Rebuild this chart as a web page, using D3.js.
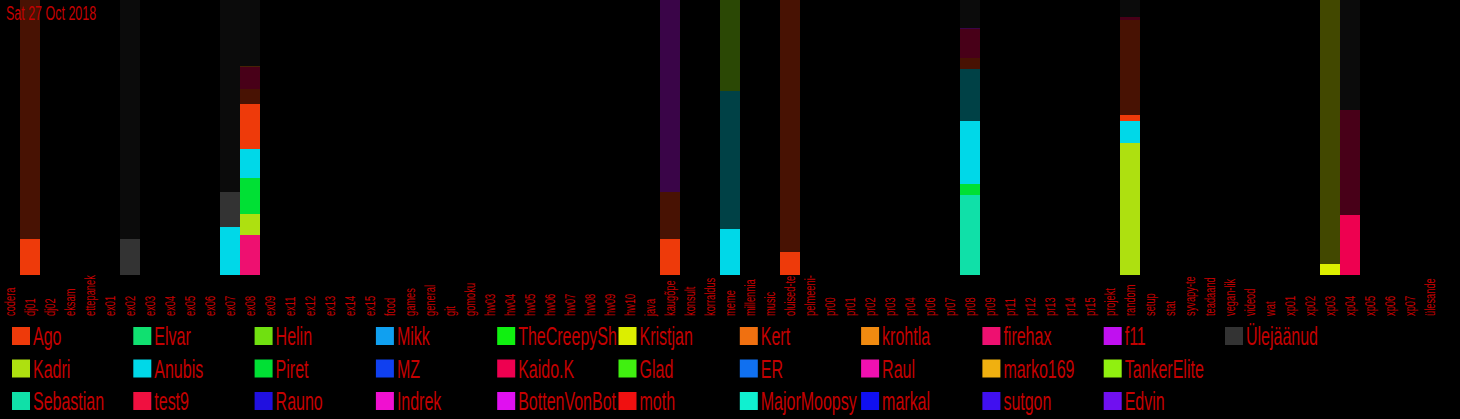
<!DOCTYPE html>
<html><head><meta charset="utf-8">
<script src="https://cdn.jsdelivr.net/npm/d3@7"></script>
<style>html,body{margin:0;padding:0;background:#000;overflow:hidden}</style>
</head><body><svg id="c" width="1460" height="419"></svg>
<script>
const titleText = "Sat 27 Oct 2018";
const categories = ["codera","dj01","dj02","eksam","ettepanek","ex01","ex02","ex03","ex04","ex05","ex06","ex07","ex08","ex09","ex11","ex12","ex13","ex14","ex15","food","games","general","git","gomoku","hw03","hw04","hw05","hw06","hw07","hw08","hw09","hw10","java","kaugõpe","konsult","korraldus","meme","millenniaalid","music","oluised-teated","pelmeeni-klubi","pr00","pr01","pr02","pr03","pr04","pr06","pr07","pr08","pr09","pr11","pr12","pr13","pr14","pr15","projekt","random","setup","stat","syvapy-teemad","teadaanded","vegan-likes","videod","wat","xp01","xp02","xp03","xp04","xp05","xp06","xp07","ülesanded"];
// legend order (column-major, 3 rows)
const users = ["Ago","Kadri","Sebastian","Elvar","Anubis","test9","Helin","Piret","Rauno","Mikk","MZ","Indrek","TheCreepyShadow","Kaido.K","BottenVonBot","Kristjan","Glad","moth","Kert","ER","MajorMoopsy","krohtla","Raul","markal","firehax","marko169","sutgon","f11","TankerElite","Edvin","Ülejäänud"];
const userColors = ["#ee3a0a","#aee010","#10e0a8","#10e070","#00d8e8","#f01040","#70e010","#00e034","#2010e0","#10a0f0","#1040f0","#f010d0","#10f010","#ee0050","#e010f0","#dcee00","#40f010","#f01010","#f07010","#1070f0","#10f0d0","#f08a10","#f010b0","#1010f0","#ee1070","#f0b010","#4010f0","#c010f0","#90f010","#7010f0","#333333"];
// stacked segments bottom -> top : [channel, user, today(1) / earlier(0), value]
const segments = [
  ["dj01","Ago",1,36],["dj01","Ago",0,239],
  ["ex02","Ülejäänud",1,36],["ex02","Ülejäänud",0,239],
  ["ex07","Anubis",1,48],["ex07","Ülejäänud",1,35],["ex07","Ülejäänud",0,192],
  ["ex08","firehax",1,40],["ex08","Kadri",1,21],["ex08","Piret",1,36],["ex08","Anubis",1,29],["ex08","Ago",1,45],["ex08","Ago",0,15],["ex08","Kaido.K",0,22],["ex08","Kert",0,1],["ex08","Ülejäänud",0,66],
  ["kaugõpe","Ago",1,36],["kaugõpe","Ago",0,47],["kaugõpe","f11",0,192],
  ["meme","Anubis",1,46],["meme","Anubis",0,138],["meme","TankerElite",0,91],
  ["oluised-teated","Ago",1,23],["oluised-teated","Ago",0,252],
  ["pr08","Sebastian",1,80],["pr08","Piret",1,11],["pr08","Anubis",1,63],["pr08","Anubis",0,52],["pr08","Ago",0,11],["pr08","Kaido.K",0,29],["pr08","f11",0,1],["pr08","Ülejäänud",0,28],
  ["random","Kadri",1,132],["random","Anubis",1,22],["random","Ago",1,6],["random","Ago",0,95],["random","Kaido.K",0,3],["random","Ülejäänud",0,17],
  ["xp03","Kristjan",1,11],["xp03","Kristjan",0,264],
  ["xp04","Kaido.K",1,60],["xp04","Kaido.K",0,105],["xp04","Ülejäänud",0,110]
];

const W = 1460, H = 419, plotBottom = 275;
const FONT = "'Liberation Sans', Arial, sans-serif";
const RED = "#c40000";
const svg = d3.select("#c");
svg.append("rect").attr("width", W).attr("height", H).attr("fill", "#000");

const x = d3.scaleBand().domain(categories).range([0, 1440]).padding(0);
const y = d3.scaleLinear().domain([0, 1]).range([plotBottom, 0]);
const color = d3.scaleOrdinal().domain(users).range(userColors);

// normalise each bar to 100%
const byChannel = d3.group(segments, d => d[0]);
const rects = [];
for (const [ch, segs] of byChannel) {
  const total = d3.sum(segs, d => d[3]);
  let acc = 0;
  for (const s of segs) {
    rects.push({ch, user: s[1], today: s[2], y0: acc / total, y1: (acc + s[3]) / total});
    acc += s[3];
  }
}
svg.append("g").selectAll("rect").data(rects).join("rect")
  .attr("x", d => x(d.ch))
  .attr("width", x.bandwidth())
  .attr("y", d => y(d.y1))
  .attr("height", d => y(d.y0) - y(d.y1))
  .attr("fill", d => color(d.user))
  .attr("fill-opacity", d => d.today ? 1 : (d.user === "Ülejäänud" ? 0.22 : 0.3));

// title
svg.append("text").attr("transform", "translate(6,20) scale(0.64,1)")
  .attr("font-family", FONT).attr("font-size", 19.5).attr("fill", RED).text(titleText);

// fit a text element into a given on-screen length (after horizontal scaling)
function fit(node, maxLen, sx) {
  let t = node.textContent;
  while (t.length > 1 && node.getComputedTextLength() * sx > maxLen) {
    t = t.slice(0, -1);
    node.textContent = t;
  }
}

// x axis
const AXS = 0.62;
const ax = svg.append("g").attr("transform", `translate(0,${plotBottom})`)
  .call(d3.axisBottom(x).tickSize(0));
ax.select(".domain").remove();
ax.selectAll("text")
  .attr("font-family", FONT).attr("font-size", 15).attr("fill", RED)
  .attr("text-anchor", "start")
  .attr("x", 0).attr("y", 0).attr("dy", "0.36em")
  .attr("transform", "translate(0,41) rotate(-90) scale(" + AXS + ",1)")
  .each(function () { fit(this, 41, AXS); });

// legend
const colW = 121.3, rowH = 32.5, LGS = 0.64;
const lg = svg.append("g");
users.forEach((u, i) => {
  const col = Math.floor(i / 3), row = i % 3;
  const lx = 12 + col * colW, ly = 327 + row * rowH;
  lg.append("rect").attr("x", lx).attr("y", ly).attr("width", 18).attr("height", 18).attr("fill", color(u));
  const t = lg.append("text").attr("transform", `translate(${lx + 21},${ly + 18}) scale(${LGS},1)`)
    .attr("font-family", FONT).attr("font-size", 25).attr("fill", RED).text(u);
  fit(t.node(), colW - 22, LGS);
});
</script></body></html>
